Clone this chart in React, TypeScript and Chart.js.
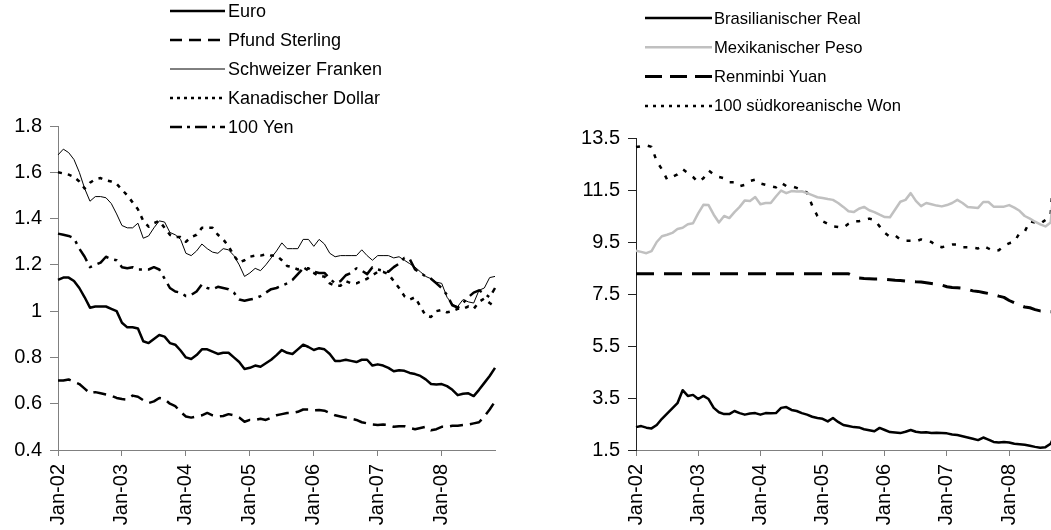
import React, { useEffect, useRef } from "react";
import { Chart, registerables } from "chart.js";

Chart.register(...registerables);

const MONTHS = ["Jan","Feb","Mar","Apr","May","Jun","Jul","Aug","Sep","Oct","Nov","Dec"];
const YEARS = ["02","03","04","05","06","07","08"];
const categories: string[] = [];
for (const y of YEARS) for (const m of MONTHS) categories.push(`${m}-${y}`);
categories.length = 83; // Jan-02 .. Nov-08

const euro = [1.135,1.145,1.145,1.13,1.10,1.06,1.015,1.02,1.02,1.02,1.01,1.00,
  0.95,0.93,0.93,0.925,0.87,0.862,0.88,0.897,0.89,0.862,0.855,0.83,
  0.80,0.793,0.81,0.835,0.835,0.825,0.815,0.82,0.82,0.80,0.78,0.75,
  0.755,0.765,0.76,0.775,0.79,0.81,0.832,0.82,0.815,0.835,0.855,0.845,
  0.832,0.84,0.835,0.815,0.785,0.785,0.79,0.785,0.78,0.79,0.79,0.765,
  0.77,0.765,0.755,0.74,0.745,0.742,0.733,0.728,0.72,0.705,0.685,0.683,
  0.685,0.676,0.66,0.637,0.643,0.645,0.633,0.66,0.69,0.72,0.755];
const pfund = [0.70,0.70,0.705,0.695,0.685,0.665,0.645,0.65,0.645,0.64,0.635,0.625,
  0.62,0.618,0.635,0.63,0.615,0.603,0.61,0.625,0.62,0.60,0.59,0.565,
  0.545,0.54,0.545,0.55,0.56,0.55,0.545,0.547,0.555,0.55,0.54,0.522,
  0.53,0.53,0.535,0.53,0.54,0.55,0.555,0.56,0.56,0.565,0.575,0.575,
  0.572,0.573,0.57,0.56,0.55,0.545,0.54,0.535,0.53,0.52,0.515,0.51,
  0.508,0.51,0.508,0.50,0.503,0.503,0.495,0.49,0.495,0.50,0.485,0.49,
  0.50,0.50,0.505,0.505,0.508,0.51,0.515,0.52,0.545,0.575,0.61];
const franken = [1.675,1.70,1.685,1.655,1.60,1.53,1.475,1.495,1.495,1.49,1.465,1.42,
  1.37,1.36,1.36,1.38,1.315,1.325,1.36,1.39,1.385,1.34,1.33,1.31,
  1.25,1.24,1.26,1.29,1.27,1.255,1.25,1.27,1.265,1.24,1.20,1.15,
  1.165,1.185,1.175,1.20,1.23,1.26,1.295,1.27,1.27,1.27,1.31,1.31,
  1.28,1.31,1.29,1.25,1.235,1.24,1.24,1.24,1.24,1.265,1.24,1.22,
  1.24,1.24,1.24,1.23,1.235,1.22,1.205,1.19,1.17,1.15,1.14,1.125,
  1.12,1.06,1.03,1.02,1.05,1.04,1.035,1.09,1.10,1.145,1.15];
const kanada = [1.60,1.595,1.59,1.58,1.56,1.53,1.555,1.57,1.575,1.565,1.56,1.55,
  1.525,1.50,1.47,1.44,1.39,1.365,1.38,1.39,1.36,1.33,1.32,1.32,
  1.30,1.32,1.33,1.36,1.36,1.36,1.33,1.31,1.28,1.24,1.21,1.22,
  1.235,1.24,1.24,1.245,1.24,1.24,1.22,1.195,1.19,1.18,1.19,1.175,
  1.165,1.15,1.15,1.12,1.11,1.11,1.13,1.12,1.12,1.13,1.14,1.155,
  1.17,1.17,1.16,1.13,1.10,1.065,1.05,1.06,1.02,0.98,0.975,1.0,
  1.005,0.995,1.00,1.01,1.01,1.02,1.01,1.04,1.055,1.035,1.02];
const yen = [1.335,1.33,1.325,1.315,1.27,1.235,1.19,1.20,1.21,1.235,1.225,1.22,
  1.19,1.185,1.19,1.18,1.18,1.18,1.19,1.18,1.14,1.10,1.085,1.08,
  1.065,1.07,1.085,1.115,1.10,1.095,1.105,1.10,1.095,1.08,1.05,1.045,
  1.05,1.055,1.065,1.08,1.095,1.10,1.11,1.12,1.135,1.16,1.185,1.185,
  1.17,1.165,1.165,1.14,1.12,1.13,1.155,1.165,1.185,1.175,1.16,1.19,
  1.18,1.175,1.17,1.19,1.205,1.23,1.225,1.18,1.165,1.15,1.14,1.12,
  1.10,1.07,1.025,1.015,1.035,1.06,1.08,1.09,1.075,1.06,1.10];

const real = [2.38,2.42,2.36,2.33,2.46,2.7,2.9,3.1,3.3,3.8,3.58,3.62,
  3.46,3.58,3.46,3.12,2.95,2.88,2.88,3.0,2.92,2.86,2.9,2.92,
  2.86,2.92,2.91,2.92,3.12,3.15,3.04,3.0,2.92,2.86,2.78,2.73,
  2.7,2.6,2.73,2.58,2.46,2.42,2.38,2.37,2.3,2.26,2.22,2.35,
  2.27,2.19,2.17,2.15,2.2,2.27,2.2,2.17,2.18,2.15,2.16,2.15,
  2.14,2.1,2.08,2.03,1.98,1.93,1.88,1.98,1.9,1.81,1.79,1.81,
  1.79,1.74,1.72,1.70,1.66,1.62,1.59,1.61,1.74,2.17,2.26];
const peso = [9.16,9.12,9.07,9.15,9.50,9.72,9.78,9.85,10.0,10.05,10.18,10.22,
  10.6,10.93,10.92,10.55,10.25,10.5,10.42,10.65,10.85,11.1,11.08,11.23,
  10.95,11.0,11.0,11.25,11.48,11.38,11.46,11.44,11.45,11.38,11.3,11.22,
  11.19,11.15,11.12,11.0,10.85,10.68,10.65,10.78,10.85,10.72,10.65,10.55,
  10.46,10.45,10.75,11.05,11.12,11.38,11.08,10.88,11.0,10.95,10.9,10.87,
  10.92,11.0,11.12,11.0,10.85,10.83,10.81,11.04,11.04,10.86,10.86,10.86,
  10.92,10.82,10.7,10.5,10.4,10.28,10.18,10.1,10.25,12.4,13.0];
const yuan = [8.28,8.28,8.28,8.28,8.28,8.28,8.28,8.28,8.28,8.28,8.28,8.28,
  8.28,8.28,8.28,8.28,8.28,8.28,8.28,8.28,8.28,8.28,8.28,8.28,
  8.28,8.28,8.28,8.28,8.28,8.28,8.28,8.28,8.28,8.28,8.28,8.28,
  8.28,8.28,8.28,8.28,8.28,8.28,8.18,8.12,8.10,8.09,8.08,8.08,
  8.07,8.05,8.03,8.02,8.00,7.99,7.97,7.96,7.93,7.90,7.87,7.84,
  7.78,7.75,7.74,7.72,7.68,7.62,7.60,7.56,7.52,7.48,7.42,7.37,
  7.25,7.16,7.07,7.00,6.97,6.90,6.85,6.83,6.82,6.83,6.83];
const won = [13.15,13.18,13.22,13.16,12.6,12.3,11.9,12.0,12.1,12.3,12.15,12.0,
  11.8,11.95,12.25,12.1,12.0,11.95,11.8,11.8,11.65,11.7,11.85,11.9,
  11.75,11.7,11.65,11.6,11.78,11.65,11.65,11.58,11.5,11.4,10.9,10.5,
  10.3,10.2,10.1,10.08,10.05,10.2,10.3,10.3,10.35,10.4,10.35,10.1,
  9.85,9.7,9.75,9.6,9.55,9.55,9.52,9.6,9.55,9.5,9.35,9.3,
  9.35,9.4,9.4,9.3,9.3,9.28,9.25,9.35,9.25,9.15,9.18,9.35,
  9.45,9.5,9.85,9.9,10.3,10.25,10.2,10.35,10.55,13.3,13.5];

const FONT = "'Liberation Sans', Arial, sans-serif";

type LegendCfg = { x1: number; x2: number; tx: number; y0: number; dy: number; size: number; dashes: number[][] };

function legendPlugin(cfg: LegendCfg) {
  return {
    id: "customLegend",
    afterDraw(chart: any) {
      const ctx = chart.ctx as CanvasRenderingContext2D;
      chart.data.datasets.forEach((ds: any, i: number) => {
        const y = cfg.y0 + cfg.dy * i;
        ctx.save();
        ctx.beginPath();
        ctx.strokeStyle = ds.borderColor;
        ctx.lineWidth = ds.borderWidth;
        ctx.setLineDash(cfg.dashes[i] || []);
        ctx.moveTo(cfg.x1, y);
        ctx.lineTo(cfg.x2, y);
        ctx.stroke();
        ctx.setLineDash([]);
        ctx.fillStyle = "#000";
        ctx.font = `${cfg.size}px ${FONT}`;
        ctx.textBaseline = "middle";
        ctx.textAlign = "left";
        ctx.fillText(ds.label, cfg.tx, y + 1);
        ctx.restore();
      });
    },
  };
}

function makeOptions(yMin: number, yMax: number, step: number, yWidth: number, padTop: number, padRight: number, yColor: string) {
  return {
    responsive: false,
    animation: false as const,
    devicePixelRatio: 1,
    layout: { padding: { top: padTop, right: padRight, left: 0, bottom: 0 } },
    plugins: { legend: { display: false }, tooltip: { enabled: false } },
    elements: { point: { radius: 0 }, line: { tension: 0, borderJoinStyle: "round" as const } },
    scales: {
      x: {
        type: "category" as const,
        offset: false,
        border: { color: "#808080", width: 1 },
        grid: { drawOnChartArea: false, drawTicks: true, tickLength: 6, color: "#808080", offset: false },
        ticks: {
          autoSkip: false,
          maxRotation: 90,
          minRotation: 90,
          padding: 8,
          color: "#000",
          font: { family: FONT, size: 20 },
          callback: (_v: any, i: number) => (i % 12 === 0 ? categories[i] : null),
        },
        afterFit: (s: any) => { s.height = 80; },
      },
      y: {
        min: yMin,
        max: yMax,
        border: { color: yColor, width: 1 },
        grid: { drawOnChartArea: false, drawTicks: true, tickLength: 8, color: yColor },
        ticks: {
          stepSize: step,
          padding: 8,
          color: "#000",
          font: { family: FONT, size: 20 },
          callback: (v: any) => String(Math.round(Number(v) * 10) / 10),
        },
        afterFit: (s: any) => { s.width = yWidth; },
      },
    },
  };
}

export default function App() {
  const leftRef = useRef<HTMLCanvasElement>(null);
  const rightRef = useRef<HTMLCanvasElement>(null);

  useEffect(() => {
    const left = new Chart(leftRef.current!, {
      type: "line",
      data: {
        labels: categories,
        datasets: [
          { label: "Euro", data: euro, borderColor: "#000", borderWidth: 2.5 },
          { label: "Pfund Sterling", data: pfund, borderColor: "#000", borderWidth: 2.5, borderDash: [13, 7] },
          { label: "Schweizer Franken", data: franken, borderColor: "#000", borderWidth: 1 },
          { label: "Kanadischer Dollar", data: kanada, borderColor: "#000", borderWidth: 2.5, borderDash: [4, 6] },
          { label: "100 Yen", data: yen, borderColor: "#000", borderWidth: 2.5, borderDash: [14, 6, 3, 6] },
        ],
      },
      options: makeOptions(0.4, 1.8, 0.2, 58, 126, 30, "#808080") as any,
      plugins: [legendPlugin({
        x1: 170, x2: 225, tx: 228, y0: 11, dy: 29, size: 18,
        dashes: [[], [12, 7], [], [3, 4], [12, 5, 3, 5]],
      })],
    });
    const right = new Chart(rightRef.current!, {
      type: "line",
      data: {
        labels: categories,
        datasets: [
          { label: "Brasilianischer Real", data: real, borderColor: "#000", borderWidth: 2.5 },
          { label: "Mexikanischer Peso", data: peso, borderColor: "#c0c0c0", borderWidth: 2.5 },
          { label: "Renminbi Yuan", data: yuan, borderColor: "#000", borderWidth: 3, borderDash: [18, 10] },
          { label: "100 südkoreanische Won", data: won, borderColor: "#000", borderWidth: 2.5, borderDash: [4, 8] },
        ],
      },
      options: makeOptions(1.5, 13.5, 2, 111, 138, 10, "#222") as any,
      plugins: [legendPlugin({
        x1: 645 - 525, x2: 712 - 525, tx: 714 - 525, y0: 18, dy: 29.3, size: 16.6,
        dashes: [[], [], [17, 8], [3, 5]],
      })],
    });
    return () => { left.destroy(); right.destroy(); };
  }, []);

  return (
    <div style={{ position: "fixed", left: 0, top: 0, width: 1051, height: 530, overflow: "hidden", background: "#fff" }}>
      <canvas ref={leftRef} width={525} height={530} style={{ position: "absolute", left: 0, top: 0, width: 525, height: 530 }} />
      <canvas ref={rightRef} width={546} height={530} style={{ position: "absolute", left: 525, top: 0, width: 546, height: 530 }} />
    </div>
  );
}
